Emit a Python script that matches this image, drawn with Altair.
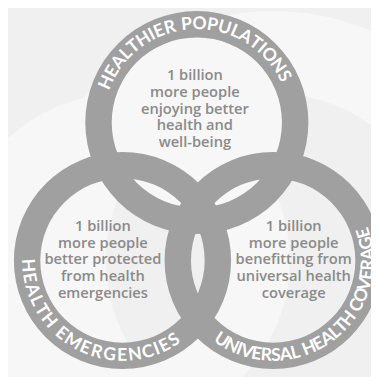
import math
import pandas as pd
import altair as alt

# ---- content (text) ----
ring_titles = ["HEALTHIER POPULATIONS", "HEALTH EMERGENCIES", "UNIVERSAL HEALTH COVERAGE"]
goal_lines = [
    ["1 billion", "more people", "enjoying better", "health and", "well-being"],
    ["1 billion", "more people", "better protected", "from health", "emergencies"],
    ["1 billion", "more people", "benefitting from", "universal health", "coverage"],
]

# ---- layout (diagram geometry in page pixels) ----
W, H = 371, 369
cx = [201, 125, 279]
cy = [121, 262, 262]
outer_r = [114, 111, 111]
ring_w = 27
# title arc: start/end angle (deg, 0 = 12 o'clock, clockwise) and whether text sits on the bottom
title_start = [-66, 267, 213]
title_end = [62, 147, 73]
title_bottom = [False, True, True]
label_x = [199, 105, 300]
label_y = [73, 227, 227]

RING = "#a0a0a0"
INNER = "#f7f7f7"
BG = "#f0f0f0"
TXT = "#8a8a8a"

char_w = {"H": .72, "E": .58, "A": .68, "L": .52, "T": .58, "I": .30, "R": .64, "P": .62,
          "O": .76, "U": .72, "N": .74, "S": .56, "M": .86, "G": .72, "C": .64, "V": .66, " ": .28}

circ = pd.DataFrame({"cx": cx, "cy": cy, "R": outer_r, "r": [o - ring_w for o in outer_r]})

rows = []
for k, title in enumerate(ring_titles):
    ws = [char_w.get(ch, .6) for ch in title]
    centers = []
    acc = 0
    for w in ws:
        centers.append(acc + w / 2)
        acc += w
    c0, c1 = centers[0], centers[-1]
    for ch, c in zip(title, centers):
        f = (c - c0) / (c1 - c0)
        th = title_start[k] + f * (title_end[k] - title_start[k])
        ang = th - 180 if title_bottom[k] else th
        rows.append({"cx": cx[k], "cy": cy[k], "ch": ch,
                     "th": (math.radians(th)) % (2 * math.pi),
                     "ang": ang % 360,
                     "rad": outer_r[k] - ring_w / 2})
letters = pd.DataFrame(rows)

labels = pd.DataFrame({"x": label_x, "y": label_y, "t": ["\n".join(l) for l in goal_lines]})

xs = alt.Scale(domain=[8, 8 + W], nice=False, zero=False)
ys = alt.Scale(domain=[8 + H, 8], nice=False, zero=False)

inner = alt.Chart(circ).mark_arc(theta=0, theta2=2 * math.pi, color=INNER).encode(
    x=alt.X("cx:Q", scale=xs, axis=None),
    y=alt.Y("cy:Q", scale=ys, axis=None),
    radius=alt.Radius("r:Q", scale=None),
)
rings = alt.Chart(circ).mark_arc(theta=0, theta2=2 * math.pi, color=RING).encode(
    x=alt.X("cx:Q", scale=xs, axis=None),
    y=alt.Y("cy:Q", scale=ys, axis=None),
    radius=alt.Radius("R:Q", scale=None),
    radius2=alt.Radius2("r:Q"),
)
titles = alt.Chart(letters).mark_text(
    font="Lato", fontSize=18, fontWeight="bold", color="white",
    align="center", baseline="middle",
).encode(
    x=alt.X("cx:Q", scale=xs, axis=None),
    y=alt.Y("cy:Q", scale=ys, axis=None),
    theta=alt.Theta("th:Q", scale=None),
    radius=alt.Radius("rad:Q", scale=None),
    angle=alt.Angle("ang:Q", scale=None),
    text="ch:N",
)
goals = alt.Chart(labels).mark_text(
    font="Open Sans", fontSize=15, fontWeight=600, color=TXT,
    align="center", baseline="middle", lineBreak="\n", lineHeight=17,
).encode(
    x=alt.X("x:Q", scale=xs, axis=None),
    y=alt.Y("y:Q", scale=ys, axis=None),
    text="t:N",
)

chart = alt.layer(inner, rings, titles, goals).properties(
    width=W, height=H, background=BG, padding=0,
    autosize=alt.AutoSizeParams(type="none"),
).configure_view(stroke=None)

chart.save("out.html", embed_options={"renderer": "svg", "actions": False})
